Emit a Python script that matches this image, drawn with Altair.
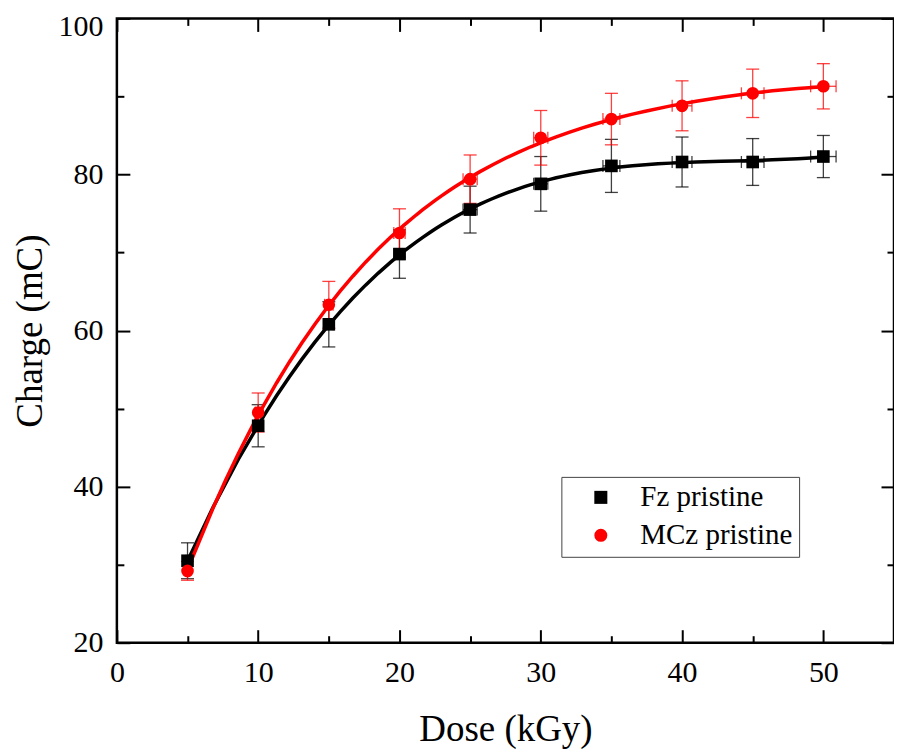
import altair as alt
import pandas as pd

datum = alt.datum

# values
dose = [5, 10, 15, 20, 25, 30, 35, 40, 45, 50]
dose_err = [0.1, 0.2, 0.3, 0.4, 0.5, 0.5, 0.6, 0.7, 0.8, 0.9]

fz_charge = [30.5, 47.8, 60.8, 69.8, 75.5, 78.8, 81.1, 81.6, 81.6, 82.3]
fz_err = [2.3, 2.7, 2.9, 3.1, 3.0, 3.5, 3.4, 3.2, 3.0, 2.7]

mcz_charge = [29.2, 49.5, 63.3, 72.5, 79.4, 84.7, 87.1, 88.8, 90.4, 91.3]
mcz_err = [1.2, 2.5, 3.0, 3.1, 3.1, 3.5, 3.3, 3.2, 3.1, 2.9]

series_names = ["Fz pristine", "MCz pristine"]
series_colors = ["#000000", "#ff0000"]
series_shapes = ["square", "circle"]

x_major = [0, 10, 20, 30, 40, 50]
x_minor = [5, 15, 25, 35, 45]
y_major = [20, 40, 60, 80, 100]
y_minor = [30, 50, 70, 90]

rows = []
for name, charge, err in zip(series_names, [fz_charge, mcz_charge], [fz_err, mcz_err]):
    for d, de, c, e in zip(dose, dose_err, charge, err):
        rows.append({
            "series": name, "dose": d, "dose_lo": d - de, "dose_hi": d + de,
            "charge": c, "lo": c - e, "hi": c + e,
        })
df = pd.DataFrame(rows)

FONT = "Liberation Serif"
xscale = alt.Scale(domain=[0, 55], nice=False, zero=False)
yscale = alt.Scale(domain=[20, 100], nice=False, zero=False)


def ticks(orient, values, size, title=""):
    # inward ticks: pull the axis inside by its tick length
    kw = dict(orient=orient, values=values, tickSize=size, offset=-size,
              tickWidth=2, tickColor="black", domain=False, grid=False,
              labels=bool(title), title=title)
    if title:
        kw.update(labelFont=FONT, labelFontSize=30, labelColor="black", labelFlush=False,
                  labelPadding=15 if orient == "bottom" else 14,
                  titleFont=FONT, titleFontSize=37, titleFontWeight="normal",
                  titleColor="black", titlePadding=24 if orient == "bottom" else 8)
        if orient == "left":
            # nudge the top label so it stays inside the canvas
            kw["labelOffset"] = {"condition": {"test": "datum.value == 100", "value": 8}, "value": 0}
    return alt.Axis(**kw)


base = alt.Chart(df)

# vertical and horizontal error bars, one pair per series
errs = []
for name, col in zip(series_names, series_colors):
    sub = base.transform_filter(datum.series == name)
    errs.append(sub.mark_errorbar(ticks=True, color=col, size=13, thickness=1.3, opacity=0.75).encode(
        x=alt.X("dose:Q", scale=xscale, axis=None),
        y=alt.Y("lo:Q", scale=yscale, axis=None),
        y2="hi:Q",
    ))
errs.append(base.transform_filter(datum.series == series_names[0]).mark_errorbar(
    ticks=True, color=series_colors[0], size=12, thickness=1.3, opacity=0.75).encode(
    x=alt.X("dose_lo:Q", scale=xscale, axis=ticks("top", x_minor, 7)),
    x2="dose_hi:Q",
    y=alt.Y("charge:Q", scale=yscale, axis=ticks("right", y_minor, 7)),
))
errs.append(base.transform_filter(datum.series == series_names[1]).mark_errorbar(
    ticks=True, color=series_colors[1], size=12, thickness=1.3, opacity=0.75).encode(
    x=alt.X("dose_lo:Q", scale=xscale, axis=None),
    x2="dose_hi:Q",
    y=alt.Y("charge:Q", scale=yscale, axis=None),
))

# polynomial fit curves
fz_fit = base.transform_filter(datum.series == series_names[0]).transform_regression(
    "dose", "charge", method="poly", order=4, extent=[5, 50]
).mark_line(color=series_colors[0], strokeWidth=3.5).encode(
    x=alt.X("dose:Q", scale=xscale, axis=ticks("bottom", x_major, 13, "Dose (kGy)")),
    y=alt.Y("charge:Q", scale=yscale, axis=ticks("left", y_major, 13, "Charge (mC)")),
)
mcz_fit = base.transform_filter(datum.series == series_names[1]).transform_regression(
    "dose", "charge", method="poly", order=4, extent=[5, 50]
).mark_line(color=series_colors[1], strokeWidth=3.5).encode(
    x=alt.X("dose:Q", scale=xscale, axis=ticks("bottom", x_minor, 7)),
    y=alt.Y("charge:Q", scale=yscale, axis=ticks("left", y_minor, 7)),
)

legend = alt.Legend(
    orient="none", legendX=445, legendY=459, direction="vertical",
    strokeColor="#444444", padding=6,
    labelFont=FONT, labelFontSize=29, labelColor="black",
    symbolSize=170, symbolStrokeWidth=0, symbolOffset=19, labelOffset=25, rowPadding=8,
)

points = base.mark_point(filled=True, size=160, opacity=1).encode(
    x=alt.X("dose:Q", scale=xscale, axis=ticks("top", x_major, 13)),
    y=alt.Y("charge:Q", scale=yscale, axis=ticks("right", y_major, 13)),
    color=alt.Color("series:N", scale=alt.Scale(domain=series_names, range=series_colors),
                    title=None, legend=legend),
    shape=alt.Shape("series:N", scale=alt.Scale(domain=series_names, range=series_shapes),
                    title=None, legend=legend),
)

chart = alt.layer(*errs, fz_fit, mcz_fit, points).resolve_axis(
    x="independent", y="independent"
).properties(
    width=778, height=625,
    autosize=alt.AutoSizeParams(type="none"),
    padding={"left": 109, "top": 10, "right": 0, "bottom": 106},
).configure_view(stroke="black", strokeWidth=2.5)

chart.save("out.html", embed_options={"renderer": "svg", "actions": False})
